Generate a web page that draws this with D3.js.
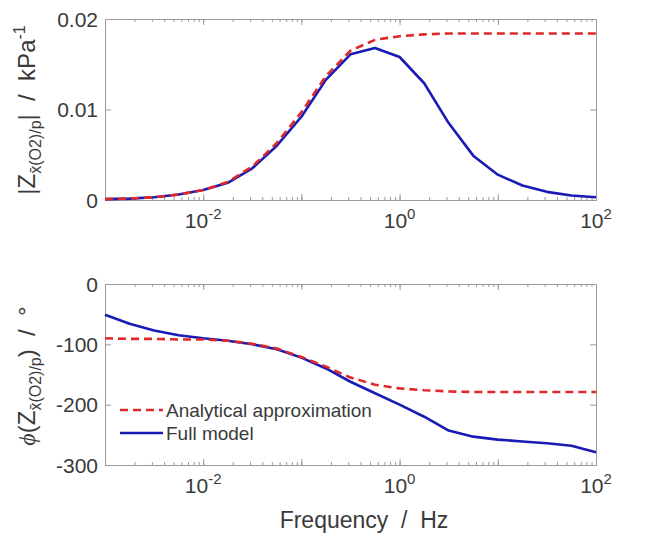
<!DOCTYPE html>
<html>
<head>
<meta charset="utf-8">
<script src="https://cdn.jsdelivr.net/npm/d3@7"></script>
<style>
  body { margin: 0; background: #fff; }
  text { font-family: "Liberation Sans", Arial, sans-serif; fill: #3a3a3a; }
</style>
</head>
<body>
<svg id="chart" width="649" height="535"></svg>
<script>
// Frequency grid (Hz), quarter-decade steps
const frequency = [0.001, 0.00178, 0.00316, 0.00562, 0.01, 0.0178, 0.0316, 0.0562,
                   0.1, 0.178, 0.316, 0.562, 1, 1.78, 3.16, 5.62, 10, 17.8, 31.6, 56.2, 100];

// |Z| in kPa^-1
const magnitudeFull   = [0.0001, 0.00015, 0.0003, 0.0006, 0.0011, 0.0019, 0.0035, 0.0060,
                         0.0092, 0.0133, 0.0161, 0.0168, 0.0158, 0.0129, 0.0085, 0.0049,
                         0.0028, 0.0016, 0.0009, 0.0005, 0.0003];
const magnitudeApprox = [0.0001, 0.00016, 0.0003, 0.0006, 0.0011, 0.0020, 0.0037, 0.0063,
                         0.0097, 0.0137, 0.0165, 0.0177, 0.0181, 0.0183, 0.0184, 0.0184,
                         0.0184, 0.0184, 0.0184, 0.0184, 0.0184];

// Phase in degrees
const phaseFull   = [-51, -66, -77, -85, -90, -94, -100, -108, -122, -140, -162, -181,
                     -200, -220, -243, -253, -258, -261, -264, -268, -279];
const phaseApprox = [-90, -91, -91, -92, -92, -94, -99, -107, -121, -137, -155, -167,
                     -173, -176, -178, -179, -179, -179, -179, -179, -179];

// Axis ticks
const frequencyDecades = [0.001, 0.01, 0.1, 1, 10, 100];
const frequencyLabels  = [0.01, 1, 100];
const magnitudeTicks = [0, 0.01, 0.02];
const phaseTicks = [0, -100, -200, -300];
const legendLabels = ["Analytical approximation", "Full model"];

const colorApprox = "#e02828";
const colorFull = "#1a1ab4";
const axisColor = "#9a9a9a";

const svg = d3.select("#chart");
const left = 105, right = 596;

const x = d3.scaleLog().domain([1e-3, 1e2]).range([left, right]);
const yMag = d3.scaleLinear().domain([0, 0.02]).range([200, 19]);
const yPh  = d3.scaleLinear().domain([-300, 0]).range([465, 284]);

function frame(y, yTicks, fmt) {
  const [bottom, top] = y.range();
  const g = svg.append("g");
  const minor = x.ticks();
  // bottom & top axes: minor and decade ticks pointing inward
  [[d3.axisBottom, bottom], [d3.axisTop, top]].forEach(([ax, pos]) => {
    g.append("g").attr("transform", `translate(0,${pos})`)
      .call(ax(x).tickValues(minor).tickSize(-3).tickSizeOuter(0).tickFormat(""));
    g.append("g").attr("transform", `translate(0,${pos})`)
      .call(ax(x).tickValues(frequencyDecades).tickSize(-6).tickSizeOuter(0).tickFormat(""));
  });
  // left & right axes
  g.append("g").attr("transform", `translate(${left},0)`)
    .call(d3.axisLeft(y).tickValues(yTicks).tickSize(-6).tickSizeOuter(0).tickFormat(""));
  g.append("g").attr("transform", `translate(${right},0)`)
    .call(d3.axisRight(y).tickValues(yTicks).tickSize(-6).tickSizeOuter(0).tickFormat(""));
  g.selectAll("path.domain").attr("stroke", axisColor);
  g.selectAll(".tick line").attr("stroke", axisColor);

  // y tick labels
  g.selectAll("text.ylab").data(yTicks).join("text")
    .attr("class", "ylab")
    .attr("x", left - 7).attr("y", d => y(d) + 7.5)
    .attr("text-anchor", "end").style("font-size", "21px")
    .text(fmt);

  // x tick labels as powers of ten
  const xl = g.selectAll("text.xlab").data(frequencyLabels).join("text")
    .attr("class", "xlab")
    .attr("x", d => x(d)).attr("y", bottom + 28)
    .attr("text-anchor", "middle").style("font-size", "21px");
  xl.append("tspan").text("10");
  xl.append("tspan").attr("dy", -9).style("font-size", "15px")
    .text(d => String(Math.round(Math.log10(d))));
}

frame(yMag, magnitudeTicks, d => d === 0 ? "0" : d3.format(".2f")(d));
frame(yPh, phaseTicks, d => String(d));

function drawSeries(y, values, color, dashed) {
  const line = d3.line().x((d, i) => x(frequency[i])).y(d => y(d));
  svg.append("path").datum(values)
    .attr("fill", "none").attr("stroke", color).attr("stroke-width", 2.6)
    .attr("stroke-linejoin", "round")
    .attr("stroke-dasharray", dashed ? "8,5" : null)
    .attr("d", line);
}

drawSeries(yMag, magnitudeFull, colorFull, false);
drawSeries(yMag, magnitudeApprox, colorApprox, true);
drawSeries(yPh, phaseFull, colorFull, false);
drawSeries(yPh, phaseApprox, colorApprox, true);

// legend
const legend = svg.append("g");
legendLabels.forEach((label, i) => {
  const ly = 410 + i * 23;
  legend.append("line").attr("x1", 120).attr("x2", 163).attr("y1", ly).attr("y2", ly)
    .attr("stroke", i === 0 ? colorApprox : colorFull).attr("stroke-width", 2.6)
    .attr("stroke-dasharray", i === 0 ? "8,5" : null);
  legend.append("text").attr("x", 166).attr("y", ly + 6.5)
    .style("font-size", "19px").text(label);
});

// axis titles
svg.append("text").attr("x", 364).attr("y", 528)
  .attr("text-anchor", "middle").style("font-size", "23px")
  .attr("xml:space", "preserve").text("Frequency  /  Hz");

const tMag = svg.append("text").attr("transform", "translate(35,110) rotate(-90)")
  .attr("text-anchor", "middle").style("font-size", "24px").attr("xml:space", "preserve");
tMag.append("tspan").text("|Z");
tMag.append("tspan").attr("dy", 6).style("font-size", "16px").text("x\u0304(O2)/p");
tMag.append("tspan").attr("dy", -6).text("|  /  kPa");
tMag.append("tspan").attr("dy", -10).style("font-size", "16px").text("-1");

const tPh = svg.append("text").attr("transform", "translate(35,376) rotate(-90)")
  .attr("text-anchor", "middle").style("font-size", "24px").attr("xml:space", "preserve");
tPh.append("tspan").style("font-style", "italic").style("font-family", "'Liberation Serif', serif").text("\u03d5");
tPh.append("tspan").text("(Z");
tPh.append("tspan").attr("dy", 6).style("font-size", "16px").text("x\u0304(O2)/p");
tPh.append("tspan").attr("dy", -6).text(")  /  \u00b0");
</script>
</body>
</html>
